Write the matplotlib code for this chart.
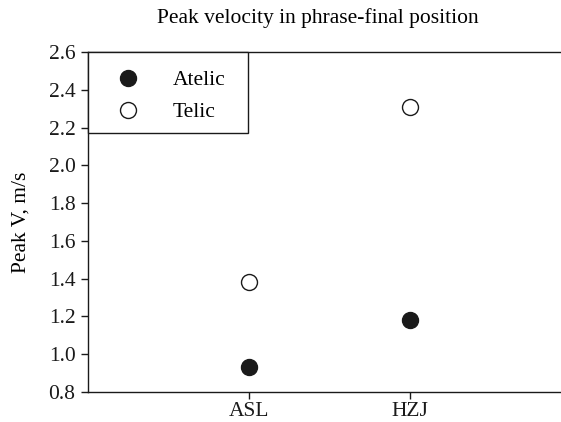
import matplotlib
matplotlib.use('Agg')
import matplotlib.pyplot as plt
from matplotlib.patches import Rectangle

groups = ['ASL', 'HZJ']
atelic = [0.93, 1.18]
telic = [1.38, 2.31]
yticks = [0.8, 1.0, 1.2, 1.4, 1.6, 1.8, 2.0, 2.2, 2.4, 2.6]

fs = 15.5
plt.rcParams['font.family'] = ['Liberation Serif', 'DejaVu Serif']
plt.rcParams['font.size'] = fs

fig = plt.figure(figsize=(5.61, 4.22), dpi=100)
# right edge runs past the picture, as in the original
ax = fig.add_axes([88 / 561, 1 - 392 / 422, (571 - 88) / 561, (392 - 52) / 422])

x = list(range(1, len(groups) + 1))
ax.plot(x, atelic, 'o', color='#1a1a1a', markersize=11.5, label='Atelic', clip_on=False)
ax.plot(x, telic, 'o', mfc='white', mec='#1a1a1a', mew=1.0, markersize=11.5,
        label='Telic', clip_on=False)

ax.set_xlim(0, 3)
ax.set_ylim(0.8, 2.6)
ax.set_xticks(x)
ax.set_xticklabels(groups)
ax.set_yticks(yticks)
ax.set_yticklabels(['%.1f' % v for v in yticks])
ax.spines['right'].set_visible(False)
for s in ['left', 'bottom', 'top']:
    ax.spines[s].set_linewidth(1.0)
    ax.spines[s].set_color('#1a1a1a')
ax.tick_params(direction='out', length=5, width=1.0, colors='#1a1a1a', labelsize=fs)
ax.tick_params(axis='x', pad=2)
ax.tick_params(axis='y', pad=4)

ax.set_ylabel('Peak V, m/s', fontsize=fs, labelpad=13)
fig.text(318 / 561, 1 - 18 / 422, 'Peak velocity in phrase-final position',
         ha='center', va='center', fontsize=fs)

# legend box drawn separately so its padding can be wider on the right
box = Rectangle((0, 1 - 0.238), 0.331, 0.238, transform=ax.transAxes,
                facecolor='white', edgecolor='#1a1a1a', linewidth=1.0,
                zorder=4, clip_on=False)
ax.add_patch(box)
leg = ax.legend(loc='upper left', bbox_to_anchor=(0.027, 0.988), borderaxespad=0,
                frameon=False, handletextpad=1.5, borderpad=0.65,
                labelspacing=0.55, handlelength=1.16, fontsize=fs)
leg.set_zorder(5)

fig.savefig('out.png', dpi=100)
